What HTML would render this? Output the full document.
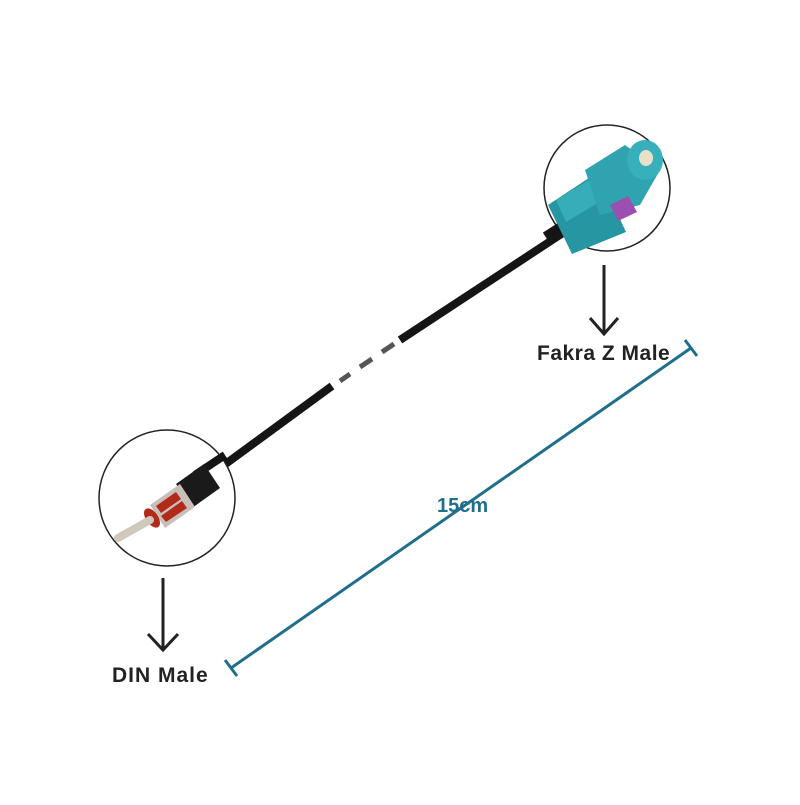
<!DOCTYPE html>
<html><head><style>body{margin:0;background:#fff}</style></head><body>
<svg width="800" height="800" viewBox="0 0 800 800" xmlns="http://www.w3.org/2000/svg">
<rect width="800" height="800" fill="#fff"/>
<!-- cable -->
<line x1="220" y1="468" x2="332" y2="386" stroke="#151515" stroke-width="8"/>
<line x1="400" y1="340" x2="575" y2="225" stroke="#151515" stroke-width="8"/>
<line x1="340" y1="381" x2="350" y2="374" stroke="#555" stroke-width="5"/>
<line x1="360" y1="367" x2="372" y2="359" stroke="#555" stroke-width="5"/>
<line x1="382" y1="352" x2="394" y2="344" stroke="#555" stroke-width="5"/>
<!-- top circle -->
<circle cx="607" cy="188" r="63" fill="#fff" stroke="#222" stroke-width="1.5"/>
<line x1="545" y1="236" x2="570" y2="220" stroke="#151515" stroke-width="8"/>
<polygon points="548,205 598,172 626,232 572,254" fill="#2796a3"/>
<polygon points="556,200 596,176 606,198 566,222" fill="#36adb8"/>
<polygon points="585,170 625,145 660,170 640,205 600,215" fill="#2fa4b0"/>
<ellipse cx="645" cy="160" rx="18" ry="20" fill="#38b0bb"/>
<ellipse cx="646" cy="158" rx="7" ry="8" fill="#e8e0c8"/>
<polygon points="610,205 628,196 637,212 618,221" fill="#9b4fb0"/>
<!-- bottom circle -->
<circle cx="167" cy="498" r="68" fill="#fff" stroke="#222" stroke-width="1.5"/>
<line x1="195" y1="475" x2="225" y2="455" stroke="#151515" stroke-width="8"/>
<polygon points="176,484 204,464 220,488 192,508" fill="#1a1a1a"/>
<polygon points="150,505 180,484 195,507 165,528" fill="#c8c0b8"/>
<polygon points="156,506 176,492 181,499 161,513" fill="#b22a1a"/>
<polygon points="161,516 182,501 187,508 166,522" fill="#b22a1a"/>
<ellipse cx="152" cy="518" rx="6" ry="11" fill="#b22a1a" transform="rotate(-35 152 518)"/>
<line x1="150" y1="520" x2="118" y2="538" stroke="#cfc8bd" stroke-width="8" stroke-linecap="round"/>
<!-- arrows -->
<g stroke="#222" stroke-width="3" fill="none">
<line x1="604" y1="265" x2="604" y2="334"/>
<polyline points="590,318 604,334 618,318"/>
<line x1="163" y1="578" x2="163" y2="650"/>
<polyline points="148,634 163,650 178,634"/>
</g>
<!-- measure -->
<g stroke="#1f6e8c" stroke-width="3">
<line x1="231" y1="668" x2="691" y2="348"/>
<line x1="225" y1="660" x2="237" y2="676"/>
<line x1="685" y1="340" x2="697" y2="356"/>
</g>
<text x="437" y="512" font-family="Liberation Sans, sans-serif" font-weight="bold" font-size="20" fill="#1f6e8c">15cm</text>
<text x="537" y="360" font-family="Liberation Sans, sans-serif" font-weight="bold" font-size="21" letter-spacing="0.5" fill="#222">Fakra Z Male</text>
<text x="112" y="682" font-family="Liberation Sans, sans-serif" font-weight="bold" font-size="21" letter-spacing="1" fill="#222">DIN Male</text>
</svg>
</body></html>
